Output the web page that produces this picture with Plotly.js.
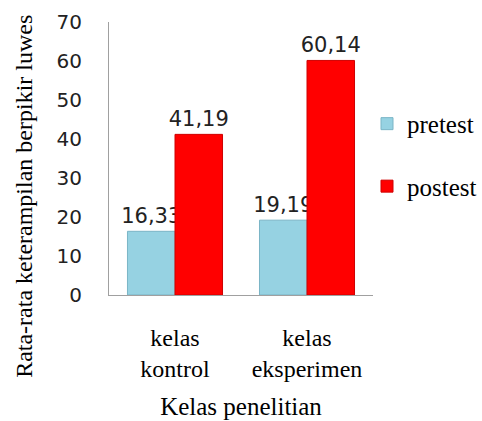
<!DOCTYPE html>
<html><head><meta charset="utf-8">
<script src="https://cdn.plot.ly/plotly-3.0.1.min.js"></script>
<style>body{margin:0;background:#fff}#c{width:482px;height:421px}</style>
</head><body><div id="c"></div>
<script>
var categories = ["kelas<br>kontrol", "kelas<br>eksperimen"];
var pretest = [16.33, 19.19];
var postest = [41.19, 60.14];
var yTicks = [0, 10, 20, 30, 40, 50, 60, 70];

var sans = "DejaVu Sans";
var serif = "Liberation Serif";

var traces = [
  {type: "bar", name: "pretest", x: categories, y: pretest,
   texttemplate: "%{y:.2f}", textposition: "outside", constraintext: "none",
   textfont: {family: sans, size: 21, color: "#222"}, cliponaxis: false,
   legendgroup: "a",
   marker: {color: "#96d2e2", line: {color: "#7ab5c6", width: 1}}},
  {type: "bar", name: "postest", x: categories, y: postest,
   texttemplate: "%{y:.2f}", textposition: "outside", constraintext: "none",
   textfont: {family: sans, size: 21, color: "#222"}, cliponaxis: false,
   legendgroup: "b",
   marker: {color: "#ff0000", line: {color: "#d00000", width: 1}}}
];

var layout = {
  width: 482, height: 421,
  margin: {l: 109, r: 0, t: 22, b: 126, pad: 0},
  paper_bgcolor: "#fff", plot_bgcolor: "#fff",
  separators: ",.",
  barmode: "group", bargap: 0.28, bargroupgap: 0,
  showlegend: true,
  legend: {x: 0.692, xanchor: "left", y: 0.711, yanchor: "top",
           font: {family: serif, size: 25, color: "#000"},
           traceorder: "grouped", tracegroupgap: 27, itemwidth: 30},
  xaxis: {domain: [0, 0.7078], showgrid: false, zeroline: false, showline: true, linecolor: "#a0a0a0", linewidth: 1,
          ticks: "", tickfont: {family: serif, size: 24, color: "#000"},
          ticklabelstandoff: 21,
          title: {text: "Kelas penelitian", font: {family: serif, size: 25, color: "#000"}, standoff: 16}},
  yaxis: {range: [0, 70], tickvals: yTicks, showgrid: false, zeroline: false,
          showline: true, linecolor: "#a0a0a0", linewidth: 1, ticks: "",
          tickfont: {family: sans, size: 20, color: "#222"}, ticklabelstandoff: 22},
  annotations: [{text: "Rata-rata keterampilan berpikir luwes", textangle: -90,
                 xref: "paper", yref: "paper", x: -0.228, y: 0.363,
                 xanchor: "center", yanchor: "middle", showarrow: false,
                 font: {family: serif, size: 24, color: "#000"}}]
};

Plotly.newPlot("c", traces, layout, {displayModeBar: false, staticPlot: true});
</script></body></html>
